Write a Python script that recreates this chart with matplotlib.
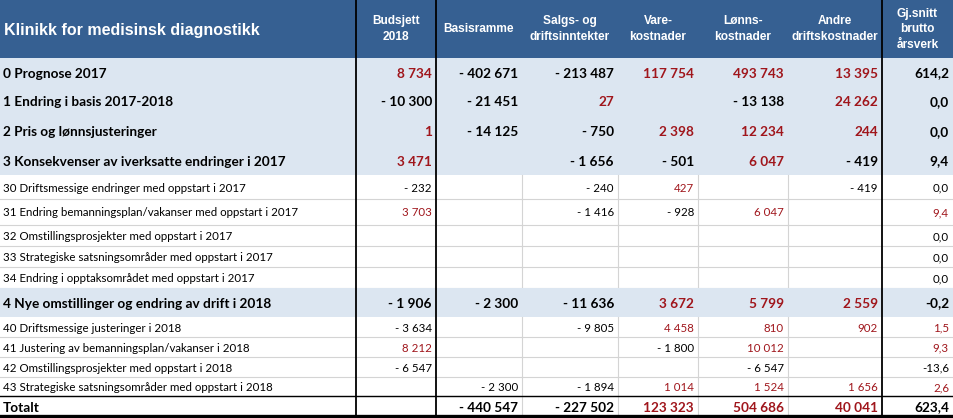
# -*- coding: utf-8 -*-
"""Budsjettabell - Klinikk for medisinsk diagnostikk"""

import matplotlib.pyplot as plt
from matplotlib.patches import Rectangle

# data
title = 'Klinikk for medisinsk diagnostikk'
col_headers = [['Budsjett', '2018'], ['Basisramme'], ['Salgs- og', 'driftsinntekter'],
               ['Vare-', 'kostnader'], ['Lønns-', 'kostnader'],
               ['Andre', 'driftskostnader'], ['Gj.snitt', 'brutto', 'årsverk']]

row_labels = [
    '0 Prognose 2017',
    '1 Endring i basis 2017-2018',
    '2 Pris og lønnsjusteringer',
    '3 Konsekvenser av iverksatte endringer i 2017',
    '30 Driftsmessige endringer med oppstart i 2017',
    '31 Endring bemanningsplan/vakanser med oppstart i 2017',
    '32 Omstillingsprosjekter med oppstart i 2017',
    '33 Strategiske satsningsområder med oppstart i 2017',
    '34 Endring i opptaksområdet med oppstart i 2017',
    '4 Nye omstillinger og endring av drift i 2018',
    '40 Driftsmessige justeringer i 2018',
    '41 Justering av bemanningsplan/vakanser i 2018',
    '42 Omstillingsprosjekter med oppstart i 2018',
    '43 Strategiske satsningsområder med oppstart i 2018',
    'Totalt',
]
row_bold = [True, True, True, True, False, False, False, False, False,
            True, False, False, False, False, True]

budsjett = [8734, -10300, 1, 3471, -232, 3703, None, None, None, -1906, -3634, 8212, -6547, None, None]
basisramme = [-402671, -21451, -14125, None, None, None, None, None, None, -2300, None, None, None, -2300, -440547]
salgs = [-213487, 27, -750, -1656, -240, -1416, None, None, None, -11636, -9805, None, None, -1894, -227502]
vare = [117754, None, 2398, -501, 427, -928, None, None, None, 3672, 4458, -1800, None, 1014, 123323]
lonn = [493743, -13138, 12234, 6047, None, 6047, None, None, None, 5799, 810, 10012, -6547, 1524, 504686]
andre = [13395, 24262, 244, -419, -419, None, None, None, None, 2559, 902, None, None, 1656, 40041]
arsverk = [614.2, 0.0, 0.0, 9.4, 0.0, 9.4, 0.0, 0.0, 0.0, -0.2, 1.5, 9.3, -13.6, 2.6, 623.4]

columns = [budsjett, basisramme, salgs, vare, lonn, andre, arsverk]

# layout (pixels)
W, H = 954, 418
col_edges = [0, 356, 436, 522, 618, 698, 788, 882, 953]
header_h = 58
row_heights = [29, 29, 30, 29, 24, 26, 21, 21, 21, 29, 20, 20, 20, 19, 21]

HEADER_BG = '#366092'
LIGHT_BG = '#DCE6F1'
RED = '#A0161C'
GRID = '#D4D4D4'


def fmt_money(v):
    s = f'{abs(v):,}'.replace(',', ' ')
    return ('- ' + s) if v < 0 else s


def fmt_fte(v):
    return f'{v:.1f}'.replace('.', ',')


fig = plt.figure(figsize=(W / 100, H / 100), dpi=100)
ax = fig.add_axes([0, 0, 1, 1])
ax.set_xlim(0, W)
ax.set_ylim(H, 0)
ax.axis('off')

# header
ax.add_patch(Rectangle((0, 0), W, header_h, color=HEADER_BG, lw=0))
ax.text(4, header_h / 2 + 1, title, color='white', fontsize=11.5, fontweight='bold',
        family='Liberation Sans', ha='left', va='center')
for j, lines in enumerate(col_headers):
    xc = (col_edges[j + 1] + col_edges[j + 2]) / 2
    n = len(lines)
    step = 15.5 if n == 3 else 16
    y0 = header_h / 2 - step * (n - 1) / 2
    for k, line in enumerate(lines):
        ax.text(xc, y0 + k * step, line, color='white', fontsize=8.6, fontweight='bold',
                family='Liberation Sans', ha='center', va='center')

# body rows
y = header_h
for i, label in enumerate(row_labels):
    h = row_heights[i]
    bold = row_bold[i]
    is_total = label == 'Totalt'
    if bold and not is_total:
        ax.add_patch(Rectangle((0, y), W, h, color=LIGHT_BG, lw=0))
    else:
        ax.plot([0, W], [y + h, y + h], color=GRID, lw=0.8, zorder=1)
        for xe in col_edges[3:7]:
            ax.plot([xe, xe], [y, y + h], color=GRID, lw=0.8, zorder=1)
    yc = y + h / 2 + 1
    weight = 'bold' if bold else 'normal'
    size = 9.8 if bold else 8.3
    ax.text(3, yc, label, fontsize=size, fontweight=weight, family='Lato',
            ha='left', va='center', color='black')
    for j, col in enumerate(columns):
        v = col[i]
        if v is None:
            continue
        last = j == len(columns) - 1
        txt = fmt_fte(v) if last else fmt_money(v)
        red = v > 0 and not (last and bold)
        ax.text(col_edges[j + 2] - 4, yc, txt, fontsize=size, fontweight=weight,
                family='Lato', ha='right', va='center', color=RED if red else 'black')
    y += h

# borders
total_top = H - row_heights[-1] - 1
ax.plot([0, W], [total_top, total_top], color='black', lw=1.0, zorder=3)
ax.plot([0, W], [H - 2, H - 2], color='black', lw=2.4, zorder=3)
for xe in (col_edges[1], col_edges[2], col_edges[7]):
    ax.plot([xe, xe], [0, H], color='black', lw=1.3, zorder=3)

fig.savefig('out.png', dpi=100)
